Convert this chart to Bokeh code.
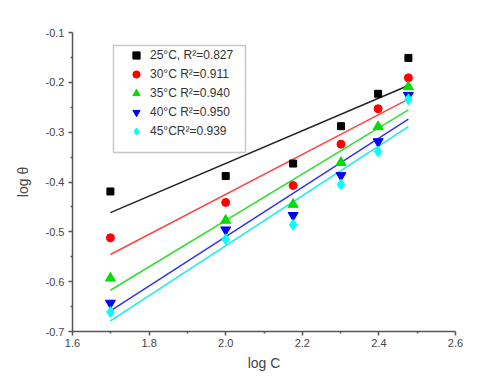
import numpy as np
from bokeh.plotting import figure
from bokeh.models import (Range1d, FixedTicker, PrintfTickFormatter,
                          Legend, LegendItem, BoxAnnotation)
from bokeh.embed import file_html
from bokeh.resources import INLINE

# ---- data ----
log_c = [1.699, 2.000, 2.176, 2.301, 2.398, 2.477]
t25 = [-0.419, -0.388, -0.363, -0.288, -0.223, -0.151]
t30 = [-0.512, -0.441, -0.407, -0.324, -0.253, -0.191]
t35 = [-0.593, -0.477, -0.445, -0.361, -0.289, -0.209]
t40 = [-0.643, -0.496, -0.467, -0.387, -0.319, -0.226]
t45 = [-0.661, -0.515, -0.486, -0.405, -0.339, -0.234]
labels = ["25°C, R²=0.827", "30°C R²=0.911", "35°C R²=0.940",
          "40°C R²=0.950", "45°CR²=0.939"]
x_ticks = [1.6, 1.8, 2.0, 2.2, 2.4, 2.6]
x_minor = [1.7, 1.9, 2.1, 2.3, 2.5]
y_ticks = [-0.7, -0.6, -0.5, -0.4, -0.3, -0.2, -0.1]
y_minor = [-0.65, -0.55, -0.45, -0.35, -0.25, -0.15]

series = [t25, t30, t35, t40, t45]
markers = ["square", "circle", "triangle", "inverted_triangle", "diamond"]
sizes = [7, 8, 10, 10, 11]
mcolors = ["#000000", "#ff0000", "#00dd00", "#0000ff", "#00ffff"]
lcolors = ["#222222", "#ff4444", "#33dd33", "#3333ee", "#11eeee"]

FONT = "Liberation Sans"

p = figure(width=481, height=373, output_backend="svg", toolbar_location=None,
           x_range=Range1d(1.6, 2.6), y_range=Range1d(-0.7, -0.1),
           min_border_left=72, min_border_right=26, min_border_top=32,
           min_border_bottom=42)
p.outline_line_color = None
p.xgrid.visible = False
p.ygrid.visible = False
p.background_fill_color = "white"
p.border_fill_color = "white"

p.xaxis.ticker = FixedTicker(ticks=x_ticks, minor_ticks=x_minor)
p.yaxis.ticker = FixedTicker(ticks=y_ticks, minor_ticks=y_minor)
p.xaxis.formatter = PrintfTickFormatter(format="%.1f")
p.yaxis.formatter = PrintfTickFormatter(format="%.1f")
p.xaxis.axis_label = "log C"
p.yaxis.axis_label = "log θ"
for ax in (p.xaxis, p.yaxis):
    ax.axis_line_color = "#555555"
    ax.axis_line_width = 1.5
    ax.major_tick_line_color = "#555555"
    ax.minor_tick_line_color = "#555555"
    ax.major_tick_line_width = 1.5
    ax.minor_tick_line_width = 1.5
    ax.major_tick_out = 4
    ax.major_tick_in = 0
    ax.minor_tick_out = 2
    ax.minor_tick_in = 0
    ax.major_label_text_font = FONT
    ax.major_label_text_font_size = "11px"
    ax.major_label_text_color = "#444444"
    ax.axis_label_text_font = FONT
    ax.axis_label_text_font_size = "14px"
    ax.axis_label_text_font_style = "normal"
    ax.axis_label_text_color = "#444444"
p.xaxis.major_label_standoff = 3
p.xaxis.axis_label_standoff = 5
p.yaxis.major_label_standoff = 4
p.yaxis.axis_label_standoff = 12

items = []
xs = np.array(log_c)
for ys, lc in zip(series, lcolors):
    k, b = np.polyfit(xs, np.array(ys), 1)
    xf = [xs[0], xs[-1]]
    p.line(xf, [k * xf[0] + b, k * xf[1] + b], line_color=lc, line_width=1.5)
for ys, mk, sz, mc, lab in zip(series, markers, sizes, mcolors, labels):
    r = p.scatter(log_c, ys, marker=mk, size=sz, fill_color=mc, line_color=mc)
    items.append(LegendItem(label=lab, renderers=[r]))

box = BoxAnnotation(left=113, right=245, top=45, bottom=152,
                    left_units="canvas", right_units="canvas",
                    top_units="canvas", bottom_units="canvas",
                    fill_color="white", fill_alpha=1.0,
                    line_color="#444444", line_width=1.5)
p.add_layout(box)

legend = Legend(items=items, location=(52, 189), orientation="vertical",
                padding=2, spacing=1, glyph_height=18, glyph_width=20,
                label_height=18, label_standoff=4,
                label_text_font=FONT, label_text_font_size="12px",
                label_text_color="#333333",
                border_line_alpha=0, background_fill_alpha=0)
p.add_layout(legend)

open("out.html", "w").write(file_html(p, INLINE))
